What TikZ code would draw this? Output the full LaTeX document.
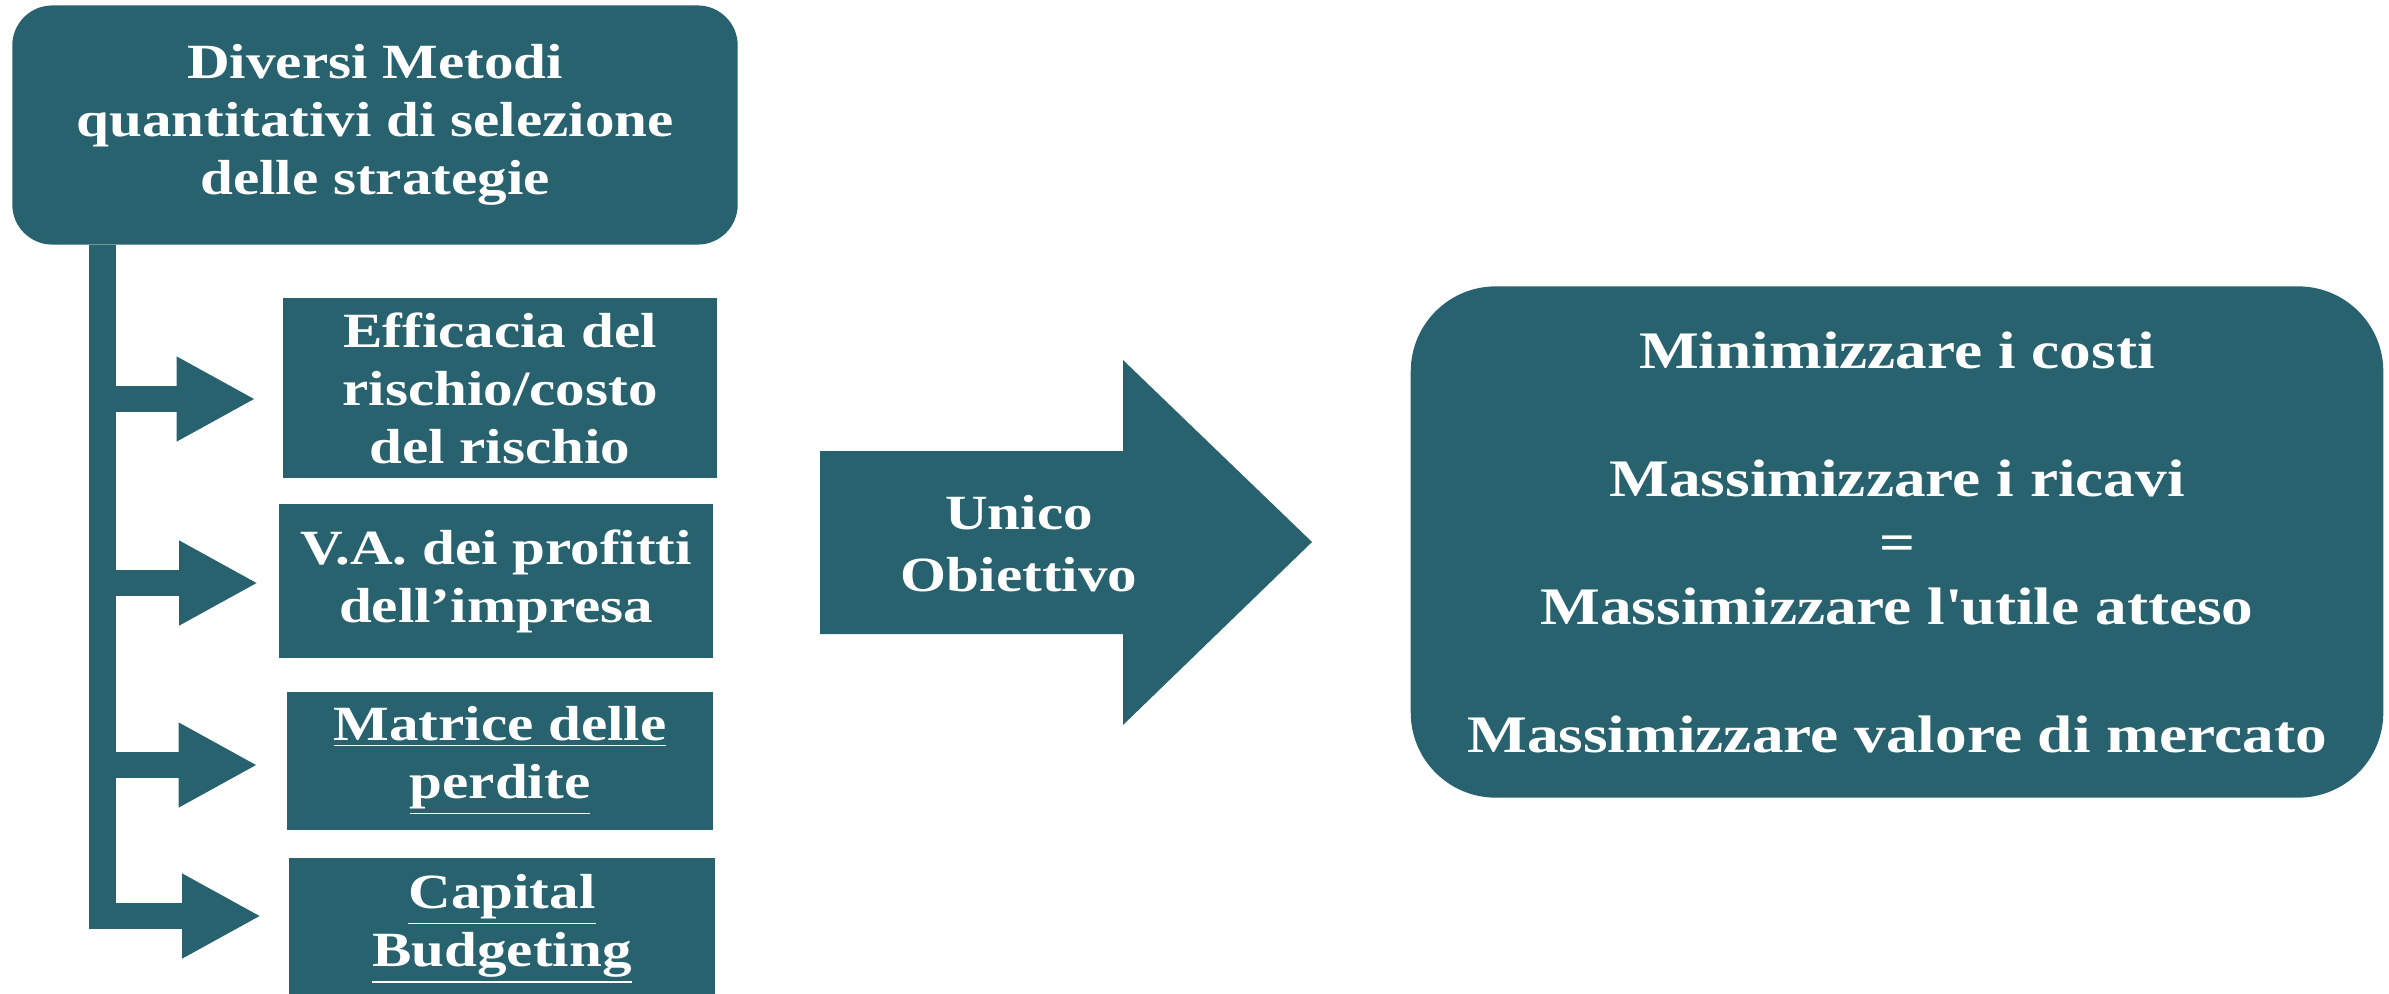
\documentclass[tikz,border=0pt]{standalone}
\usepackage{fontspec}
\setmainfont{Liberation Serif}[FakeStretch=1.2]
\usetikzlibrary{arrows.meta,calc,positioning}
\definecolor{petrol}{RGB}{39,98,110}
\tikzset{
  leftbox/.style={fill=petrol,text=white,align=center,inner sep=0pt,
    font=\fontsize{14}{16.5}\selectfont\bfseries},
  branch/.style={draw=petrol,line width=0.26cm,
    -{Triangle[length=0.79cm,width=0.79cm]},shorten >=0.27cm}
}
\begin{document}
\begin{tikzpicture}[x=0.01cm,y=-0.01cm]
  \useasboundingbox (0,0) rectangle (2389,993);
  % metodi
  \node[leftbox,rounded corners=0.4cm,minimum width=7.25cm,minimum height=2.39cm] (metodi) at (375,125)
    {Diversi Metodi\\quantitativi di selezione\\delle strategie};
  \node[leftbox,minimum width=4.33cm,minimum height=1.79cm] (b1) at (500,388)
    {Efficacia del\\rischio/costo\\del rischio};
  \node[leftbox,minimum width=4.34cm,minimum height=1.54cm] (b2) at (496,581)
    {V.A. dei profitti\\dell’impresa};
  \node[leftbox,minimum width=4.25cm,minimum height=1.38cm] (b3) at (500,761)
    {\underline{Matrice delle}\\\underline{perdite}};
  \node[leftbox,minimum width=4.26cm,minimum height=1.42cm] (b4) at (502,929)
    {\underline{Capital}\\\underline{Budgeting}};
  % rami
  \coordinate (trunk) at (102.5,245);
  \coordinate (e1) at ($(b1.west)+(0,11)$);
  \coordinate (e2) at ($(b2.west)+(0,2)$);
  \coordinate (e3) at ($(b3.west)+(0,4)$);
  \coordinate (e4) at ($(b4.west)+(0,-13)$);
  \draw[branch] (trunk) |- (e4);
  \foreach \e/\s in {e1/0.27cm,e2/0.2cm,e3/0.29cm}
    \draw[branch,shorten >=\s] (\e -| trunk) -- (\e);
  % freccia
  \fill[petrol] (820,451) -- (1123,451) -- (1123,360) -- (1312,542)
    -- (1123,725) -- (1123,634) -- (820,634) -- cycle;
  \node[text=white,align=center,font=\fontsize{14}{17.6}\selectfont\bfseries] (obiettivo) at (1019,544)
    {Unico\\Obiettivo};
  % scopo
  \node[fill=petrol,text=white,align=center,rounded corners=0.85cm,inner sep=0pt,
    minimum width=9.72cm,minimum height=5.11cm,font=\fontsize{15}{18.2}\selectfont\bfseries] (scopo) at (1897,542)
    {Minimizzare i costi\\[18.2pt]
     Massimizzare i ricavi\\
     =\\
     Massimizzare l\textquotesingle utile atteso\\[18.2pt]
     Massimizzare valore di mercato};
\end{tikzpicture}
\end{document}
